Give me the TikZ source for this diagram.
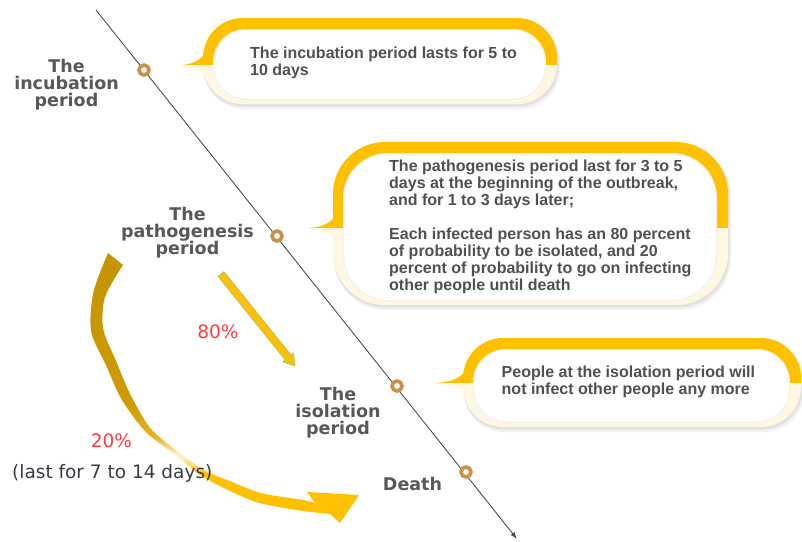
\documentclass[tikz,border=0pt]{standalone}
\usepackage{fontspec}
\newfontfamily\arialike{Liberation Sans}
\newfontfamily\dejavu{DejaVu Sans}
\usetikzlibrary{arrows.meta}

\definecolor{rimyellow}{HTML}{FFC000}
\definecolor{rimcream}{HTML}{FFF7E0}
\definecolor{ringbrown}{HTML}{C8914A}
\definecolor{labelgray}{HTML}{58585A}
\definecolor{textgray}{HTML}{505050}
\definecolor{pctred}{HTML}{FF3B45}
\definecolor{notegray}{HTML}{383B45}
\definecolor{linegray}{HTML}{4D4D4D}
\definecolor{arrowgreen}{HTML}{A8C060}
\definecolor{swY}{HTML}{FFC000}
\definecolor{swPale}{HTML}{FFF4CC}
\definecolor{swLight}{HTML}{E6B422}
\definecolor{swGold}{HTML}{CC9C00}
\definecolor{swDark}{HTML}{C49400}

% colour ramp of the curved 20% arrow: dark gold above, pale in the bend, yellow at the head
\pgfdeclareverticalshading{swoosh}{100bp}{color(0bp)=(swY); color(25bp)=(swY); color(34bp)=(swY); color(37.5bp)=(swPale); color(41bp)=(swLight); color(47bp)=(swGold); color(75bp)=(swDark); color(100bp)=(swDark)}

% speech bubble: #1 left, #2 top, #3 right, #4 bottom, #5 outer radius, #6 inner radius, #7 tip x, #8 tip y
\newcommand\callout[8]{%
  \fill[black,opacity=.05,rounded corners=#5] (#1+1,#2+3) rectangle (#3+3,#4+5);
  \fill[black,opacity=.07,rounded corners=#5] (#1,#2+1.5) rectangle (#3+1.5,#4+2.5);
  \begin{scope}
    \clip (#7-5,#2-5) rectangle (#3+5,#8);
    \fill[rimyellow] (#1+4,#8-14) .. controls (#1-2,#8-6) and (#1-8,#8-1) .. (#7,#8)
      .. controls (#1-8,#8+2) and (#1-3,#8+5) .. (#1+4,#8+12) -- cycle;
    \fill[rimyellow,rounded corners=#5] (#1,#2) rectangle (#3,#4);
  \end{scope}
  \begin{scope}
    \clip (#7-5,#8) rectangle (#3+5,#4+5);
    \fill[rimcream] (#1+4,#8-14) .. controls (#1-2,#8-6) and (#1-8,#8-1) .. (#7,#8)
      .. controls (#1-8,#8+2) and (#1-3,#8+5) .. (#1+4,#8+12) -- cycle;
    \fill[rimcream,rounded corners=#5] (#1,#2) rectangle (#3,#4);
  \end{scope}
  \fill[white,rounded corners=#6] (#1+10,#2+11) rectangle (#3-11,#4-4);
  \draw[black,opacity=.06,line width=1.2pt,rounded corners=#6] (#1+10.6,#2+11.6) rectangle (#3-11.6,#4-4.6);
}

\tikzset{
  bubbletext/.style={anchor=north west, inner sep=0pt, align=left, text=textgray,
    font=\arialike\bfseries\fontsize{16}{17}\selectfont},
  stagelabel/.style={anchor=north, inner sep=0pt, align=center, text=labelgray,
    font=\dejavu\bfseries\fontsize{17.5}{17.2}\selectfont},
  pct/.style={anchor=base, inner sep=0pt, text=pctred, font=\dejavu\fontsize{18.5}{20}\selectfont},
  marker/.style={circle, draw=ringbrown, fill=white, line width=3.6pt, minimum size=10pt, inner sep=0pt},
  timeline/.style={draw=linegray, line width=0.9pt, -{Latex[length=7pt,width=5pt]}},
}

\begin{document}
\begin{tikzpicture}[x=1pt,y=-1pt]
\useasboundingbox (0,0) rectangle (802,541);

% speech bubbles
\callout{203}{18}{557}{104}{40pt}{33pt}{182}{65}
\callout{333}{142}{728}{305}{52pt}{45pt}{308}{228}
\callout{463}{338}{801}{427}{40pt}{33pt}{435}{383}

% time axis with its stage markers
\coordinate (axistop) at (96,10);
\coordinate (axisend) at (517,539);
\draw[timeline] (axistop) -- (axisend);
\node[marker] (m1) at (144,70) {};
\node[marker] (m2) at (277,236) {};
\node[marker] (m3) at (397,386) {};
\node[marker] (m4) at (466,472) {};

% 80% arrow
\filldraw[fill=swY, draw=arrowgreen, line width=.6pt]
  (223.96,271.62) -- (291.06,355.05) -- (293.55,353.04) -- (295,366)
  -- (282.65,361.82) -- (285.14,359.81) -- (218.04,276.38) -- cycle;

% curved 20% arrow
\shade[shading=swoosh]
  plot[smooth] coordinates {(108,253) (93.5,292) (91.1,331.2) (106.0,365.2) (121.6,399.4)
    (145.8,432.0) (173.8,453.6) (201.4,475.6) (228.2,490.1) (258.7,502.8) (299.1,510.4) (330,514)}
  -- (340,523) -- (359,495) -- (307,492) -- (315,503)
  -- plot[smooth] coordinates {(315,503) (300.9,499.6) (261.3,493.2) (231.8,481.9) (204.6,470.4)
    (176.2,450.4) (150.2,428.0) (130.4,394.6) (116.0,360.8) (103.2,328.8) (105,297) (123,265)}
  -- cycle;

% bubble texts
\node[bubbletext] (t1) at (250,46.6) {The incubation period lasts for 5 to\\10 days};
\node[bubbletext] (t2) at (389,160) {The pathogenesis period last for 3 to 5\\days at the beginning of the outbreak,\\and for 1 to 3 days later;\\[17pt]Each infected person has an 80 percent\\of probability to be isolated, and 20\\percent of probability to go on infecting\\other people until death};
\node[bubbletext] (t3) at (501.5,365.6) {People at the isolation period will\\not infect other people any more};

% stage names
\node[stagelabel] (s1) at (66.5,59) {The\\incubation\\period};
\node[stagelabel] (s2) at (187.5,206.7) {The\\pathogenesis\\period};
\node[stagelabel] (s3) at (338,386.7) {The\\isolation\\period};
\node[stagelabel, anchor=base] (s4) at (412.5,490) {Death};

% shares
\node[pct] (p80) at (218,338.3) {80\%};
\node[pct] (p20) at (111.5,447.3) {20\%};
\node[anchor=base west, inner sep=0pt, text=notegray, font=\dejavu\fontsize{18.5}{20}\selectfont] (dur) at (12,478.3) {(last for 7 to 14 days)};
\end{tikzpicture}
\end{document}
